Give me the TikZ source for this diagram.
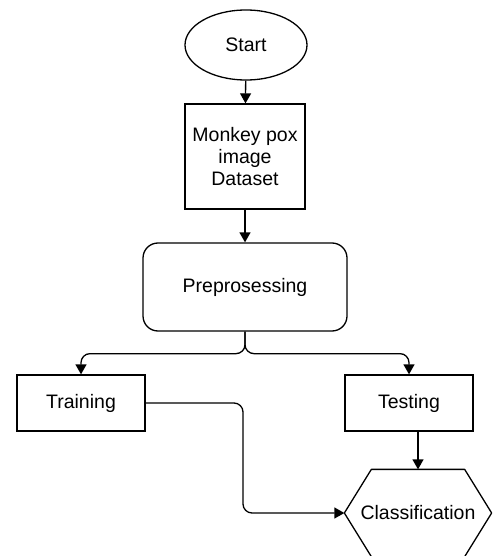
\documentclass[tikz,border=0pt]{standalone}
\usepackage{fontspec}
\setmainfont{Liberation Sans}
\usetikzlibrary{arrows.meta,calc,shapes.geometric}
\begin{document}
\begin{tikzpicture}[x=1pt,y=-1pt,
  box/.style={draw, line width=1.3pt, align=center, inner sep=0pt, font=\fontsize{19.5}{22}\selectfont},
  flow/.style={draw, line width=1.3pt, -{Triangle[length=10pt,width=11pt]}},
  elbow/.style={rounded corners=9pt}]
  \useasboundingbox (0,0) rectangle (493,556);

  % flowchart nodes
  \node[box, ellipse, minimum width=122pt, minimum height=70pt] (start) at (246,45) {Start};
  \node[box, rectangle, minimum width=120pt, minimum height=105pt] (data) at (245,156.5) {Monkey pox\\image\\Dataset};
  \node[box, rectangle, rounded corners=15pt, minimum width=204pt, minimum height=88pt] (pre) at (245,287) {Preprosessing};
  \node[box, rectangle, minimum width=128pt, minimum height=56pt] (train) at (81,403) {Training};
  \node[box, rectangle, minimum width=128pt, minimum height=56pt] (test) at (409,403) {Testing};
  \node[box, draw=none, rectangle, minimum width=146pt, minimum height=86pt] (cls) at (418,513) {Classification};

  % hexagon outline for the classification step
  \draw[line width=1.3pt, line join=round]
    (cls.west) -- ($(cls.north west)+(27,0)$) -- ($(cls.north east)+(-27,0)$)
    -- (cls.east) -- ($(cls.south east)+(-27,0)$) -- ($(cls.south west)+(27,0)$) -- cycle;

  % connectors
  \coordinate (split) at ($(pre.south)+(0,22)$);
  \coordinate (join) at (243,460);
  \draw[flow] (start) -- (data);
  \draw[flow] (data) -- (pre);
  \draw[flow, elbow] (pre.south) -- (split) -| (train.north);
  \draw[flow, elbow] (pre.south) -- (split) -| (test.north);
  \draw[flow] (cls.north |- test.south) -- (cls.north);
  \draw[flow, elbow] (train.east) -| (join) |- (cls.west);
\end{tikzpicture}
\end{document}
